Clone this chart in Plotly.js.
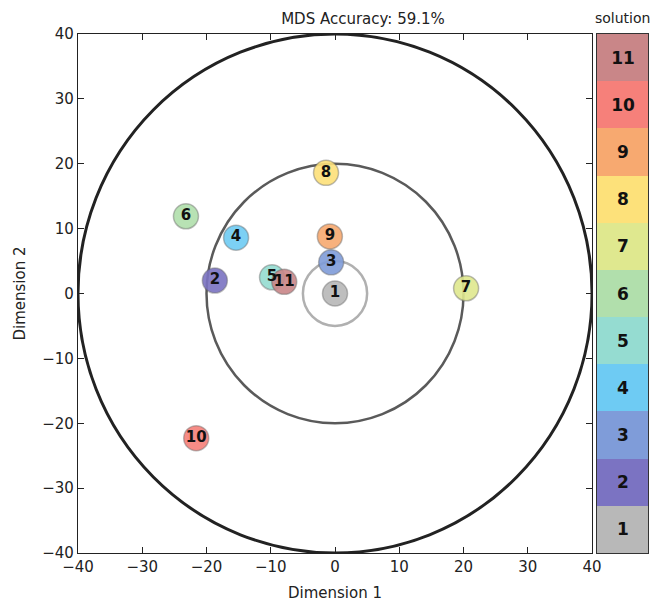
<!DOCTYPE html>
<html>
<head>
<meta charset="utf-8">
<script src="https://cdn.plot.ly/plotly-3.0.1.min.js"></script>
<style>html,body{margin:0;padding:0;background:#fff;}#chart{width:668px;height:605px;}</style>
</head>
<body>
<div id="chart"></div>
<script>
// Data
const solutions = [1, 2, 3, 4, 5, 6, 7, 8, 9, 10, 11];
const dim1 = [0.0, -18.7, -0.6, -15.4, -9.8, -23.2, 20.4, -1.4, -0.8, -21.6, -7.9];
const dim2 = [0.0, 2.0, 4.8, 8.6, 2.5, 11.9, 0.8, 18.6, 8.8, -22.3, 1.8];
const solutionColors = ['#b8b8b8', '#7b73c2', '#7f9cd9', '#6ecbf3', '#95dcd1', '#b1dfac',
                        '#dfe88f', '#fde17a', '#f7a970', '#f6807a', '#c98688'];
const ringRadii = [40, 20, 5];
const ringColors = ['#222222', '#5a5a5a', '#b0b0b0'];
const axisTicks = [-40, -30, -20, -10, 0, 10, 20, 30, 40];
const titleText = 'MDS Accuracy: 59.1%';

const font = 'DejaVu Sans, sans-serif';

const scatter = {
  type: 'scatter',
  mode: 'markers+text',
  x: dim1, y: dim2,
  text: solutions.map(String),
  textposition: 'middle center',
  textfont: {family: font, size: 15, color: '#111', weight: 'bold'},
  marker: {
    size: 25,
    color: solutionColors,
    opacity: 0.9,
    line: {color: 'rgba(90,90,90,0.45)', width: 1.5}
  },
  hoverinfo: 'none',
  xaxis: 'x', yaxis: 'y',
  showlegend: false
};

// colorbar drawn as a heatmap
const n = solutions.length;
const cs = [];
solutionColors.forEach((c, i) => {
  cs.push([i / n, c]);
  cs.push([(i + 1) / n, c]);
});
const bar = {
  type: 'heatmap',
  x: [0],
  y: solutions,
  z: solutions.map(s => [s]),
  text: solutions.map(s => [String(s)]),
  texttemplate: '%{text}',
  textfont: {family: font, size: 17, color: '#111', weight: 'bold'},
  colorscale: cs,
  zmin: 0.5, zmax: n + 0.5,
  showscale: false,
  xgap: 0, ygap: 0,
  hoverinfo: 'none',
  xaxis: 'x2', yaxis: 'y2'
};

const shapes = ringRadii.map((r, i) => ({
  type: 'circle', xref: 'x', yref: 'y',
  x0: -r, x1: r, y0: -r, y1: r,
  line: {color: ringColors[i], width: i === 0 ? 3 : 2.5},
  layer: 'below'
}));

const axisCommon = {
  range: [-40, 40],
  tickvals: axisTicks,
  ticks: 'inside', ticklen: 6, tickcolor: '#222',
  showline: true, linecolor: '#222', linewidth: 1.2, mirror: 'ticks',
  showgrid: false, zeroline: false,
  tickfont: {family: font, size: 15, color: '#222'}
};

const layout = {
  width: 668, height: 605,
  margin: {l: 78, r: 20, t: 34, b: 52},
  paper_bgcolor: '#fff', plot_bgcolor: '#fff',
  font: {family: font, color: '#222'},
  title: {text: titleText, font: {family: font, size: 15, color: '#222'},
          x: 0.5, xref: 'paper', xanchor: 'center', y: 0.978, yanchor: 'top',
          automargin: false},
  xaxis: Object.assign({}, axisCommon, {
    domain: [0, 0.9018],
    title: {text: 'Dimension 1', font: {family: font, size: 15, color: '#222'}, standoff: 12}
  }),
  yaxis: Object.assign({}, axisCommon, {
    domain: [0, 1],
    title: {text: 'Dimension 2', font: {family: font, size: 15, color: '#222'}, standoff: 12}
  }),
  xaxis2: {domain: [0.9105, 1], anchor: 'y2', showticklabels: false, ticks: '',
           showgrid: false, zeroline: false, showline: true, mirror: true,
           linecolor: '#333', linewidth: 1.2},
  yaxis2: {domain: [0, 1], anchor: 'x2', range: [0.5, n + 0.5], showticklabels: false,
           ticks: '', showgrid: false, zeroline: false, showline: true, mirror: true,
           linecolor: '#333', linewidth: 1.2},
  shapes: shapes,
  annotations: [{
    text: 'solution', xref: 'x2 domain', yref: 'paper', x: 0.5, y: 1.012,
    xanchor: 'center', yanchor: 'bottom', showarrow: false,
    font: {family: font, size: 14, color: '#222'}
  }]
};

Plotly.newPlot('chart', [bar, scatter], layout, {staticPlot: true, displayModeBar: false});
</script>
</body>
</html>
